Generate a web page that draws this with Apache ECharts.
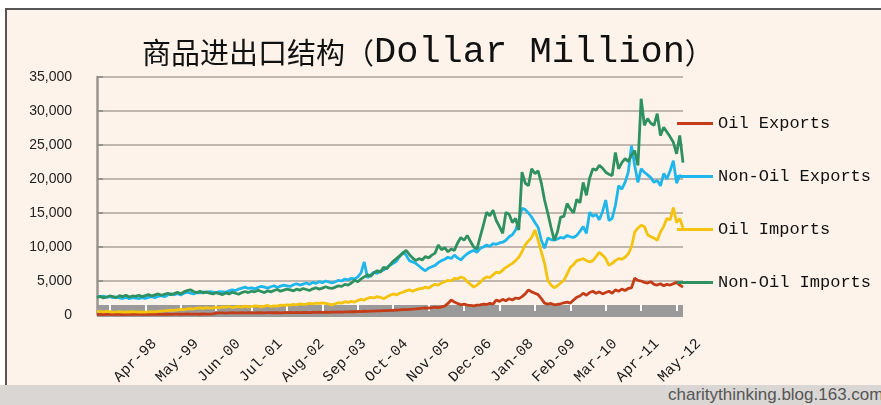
<!DOCTYPE html>
<html>
<head>
<meta charset="utf-8">
<script src="https://cdn.jsdelivr.net/npm/echarts@6/dist/echarts.min.js"></script>
<style>
  html, body { margin: 0; padding: 0; background: #ffffff; }
  #wrap { position: relative; width: 881px; height: 405px; overflow: hidden; }
  #paper { position: absolute; left: 5px; top: 8px; right: 0; bottom: 0; background: #fdf3ea;
           border-left: 2px solid #555; border-top: 2px solid #555; }
  #strip { position: absolute; left: 0; top: 385px; width: 881px; height: 20px; background: #d9d6d3; }
  #credit { position: absolute; left: 668px; top: 385px; font: 17px "Liberation Sans", Arial, sans-serif;
            color: #555; white-space: nowrap; line-height: 20px; }
  #chart { position: absolute; left: 0; top: 0; width: 881px; height: 405px; }
</style>
</head>
<body>
<div id="wrap">
  <div id="paper"></div>
  <div id="strip"></div>
  <div id="credit">charitythinking.blog.163.com</div>
  <div id="chart"></div>
</div>
<script>
// monthly, Mar-97 .. May-12
const monthNames = ["Jan","Feb","Mar","Apr","May","Jun","Jul","Aug","Sep","Oct","Nov","Dec"];
const months = [];
for (let y = 1997; y <= 2012; y++) {
  for (let m = 0; m < 12; m++) {
    if (y === 1997 && m < 2) continue;
    if (y === 2012 && m > 4) continue;
    months.push(monthNames[m] + "-" + String(y).slice(2));
  }
}

const seriesNames = ["Oil Exports", "Non-Oil Exports", "Oil Imports", "Non-Oil Imports"];
const yTicks = [0, 5000, 10000, 15000, 20000, 25000, 30000, 35000];

const oilExports = [
  80, 100, 70, 90, 110, 80, 100, 90, 70, 110, 90, 100,
  80, 100, 120, 90, 110, 130, 100, 120, 90, 110, 130, 100,
  120, 140, 110, 130, 150, 120, 140, 130, 110, 150, 130, 140,
  160, 280, 300, 320, 290, 310, 330, 300, 320, 340, 310, 330,
  300, 320, 350, 330, 310, 340, 360, 330, 350, 320, 360, 340,
  370, 350, 380, 360, 390, 370, 350, 400, 380, 410, 390, 420,
  400, 430, 410, 450, 430, 470, 450, 500, 480, 520, 500, 550,
  530, 580, 560, 600, 620, 650, 630, 680, 700, 730, 760, 800,
  780, 830, 860, 900, 950, 1000, 1050, 1000, 1100, 1150, 1100, 1200,
  1300, 1700, 2200, 1900, 1700, 1500, 1600, 1450, 1400, 1350, 1450, 1500,
  1600, 1550, 1700, 1600, 2200, 2000, 2300, 2100, 2400, 2200, 2500, 2400,
  2700, 3100, 3700, 3400, 3200, 3000, 2400, 1750, 1600, 1700, 1500, 1550,
  1650, 1800, 1900, 1750, 2200, 2600, 2800, 3200, 2900, 3300, 3500, 3200,
  3400, 3100, 3300, 3500, 3200, 3700, 3500, 3800, 3600, 3900, 4000, 5400,
  5100, 5000, 4800, 4700, 4900, 4500, 4400, 4600, 4300, 4500, 4400, 4600,
  4800, 4400, 4100
];

const nonOilExports = [
  2750, 2650, 2800, 2600, 2700, 2550, 2650, 2500, 2450, 2600, 2400, 2550,
  2500, 2400, 2550, 2450, 2600, 2700, 2550, 2750, 2850, 2700, 2950, 3100,
  3000, 3150, 2950, 3200, 3350, 3200, 3100, 3300, 3250, 3400, 3300, 3450,
  3350, 3250, 3450, 3400, 3350, 3550, 3700, 3600, 3800, 3950, 4100, 3900,
  4000, 3850, 4050, 4200, 4100, 3950, 4150, 4300, 4050, 4250, 4400, 4300,
  4200, 4450, 4600, 4400, 4550, 4700, 4500, 4800, 4650, 4900, 4750, 5000,
  4850, 4700, 4900, 5100, 5000, 5300, 5150, 5400, 5300, 5600, 6200, 7800,
  5500, 5900, 6300, 6100, 6500, 6600, 7000, 7300, 7600, 7900, 8600, 9200,
  8800, 8000, 7800, 7600, 7200, 6800, 6500, 6900, 7100, 7300, 7700, 8000,
  8200, 8500, 8300, 8800, 8400, 8100, 8600, 9000, 9300, 9500, 9200, 9800,
  10000, 10300, 10100, 10500, 10400, 10600, 10700, 11000, 11500, 11800, 12500, 13800,
  15700, 15500, 15000, 14400, 13600, 12900, 11000, 9800, 11300, 11100, 11000, 11200,
  11400, 11300, 11700, 11500, 11400, 11700, 12300, 13000, 12000, 15100, 14500, 14800,
  14000, 15200, 16900, 13900, 14200, 16100, 19000, 18500, 19500, 21000, 24900, 22000,
  19500, 21500, 21000, 20600, 20200, 19500, 19800, 19000, 20800, 20000, 21200, 22700,
  19400, 20500, 20300
];

const oilImports = [
  550, 500, 450, 520, 480, 430, 460, 500, 420, 470, 440, 480,
  450, 420, 460, 430, 470, 500, 450, 520, 560, 600, 650, 700,
  680, 750, 820, 780, 900, 950, 880, 1000, 1050, 980, 1100, 1000,
  1050, 1150, 1100, 1200, 1150, 1250, 1100, 1200, 1250, 1150, 1300, 1200,
  1250, 1350, 1300, 1200, 1300, 1400, 1250, 1350, 1300, 1450, 1400, 1500,
  1450, 1550, 1500, 1650, 1550, 1600, 1700, 1650, 1750, 1700, 1800, 1700,
  1600, 1500, 1650, 1800, 1750, 1950, 1850, 2000, 1900, 2150, 2300, 2200,
  2450, 2600, 2500, 2700, 2600, 2400, 2650, 2900, 3100, 2950, 3200, 3350,
  3550, 3700, 3500, 3700, 3850, 3900, 4100, 3950, 4300, 4500, 4400, 4700,
  4900, 5100, 5000, 5400, 5300, 5600, 5400, 4900, 4500, 4100, 4400, 4800,
  5300, 5600, 5500, 5900, 6300, 6200, 6600, 7000, 7300, 7600, 8000, 8500,
  9300, 10300, 10900, 11400, 12500, 11000, 9300, 7600, 5100, 4400, 4000, 4300,
  4700, 5100, 6000, 7000, 7400, 8000, 8100, 8300, 8000, 7800, 8000, 8600,
  9200, 8800, 8300, 7300, 7600, 8000, 8300, 8200, 8500, 9000, 10000, 12200,
  12800, 13200, 13000, 11800, 11500, 11300, 11000, 12200, 13000, 14200, 14000, 15800,
  13600, 14200, 12800
];

const nonOilImports = [
  2600, 2750, 2500, 2650, 2800, 2700, 2550, 2850, 2700, 2900, 2650, 2800,
  2750, 2900, 2700, 2850, 3000, 2800, 2950, 3100, 2900, 3050, 3200, 3000,
  3150, 3350, 3100, 3400, 3600, 3700, 3450, 3300, 3500, 3250, 3400, 3200,
  3100, 3300, 3150, 3000, 3250, 3100, 3350, 3200, 3050, 3300, 3450, 3300,
  3500, 3400, 3650, 3450, 3300, 3550, 3400, 3600, 3750, 3500, 3650, 3800,
  3700, 3550, 3800, 3650, 3900, 3750, 3600, 3850, 4000, 3800, 3950, 4150,
  4000, 3900, 4100, 4300, 4200, 4500, 4400, 4700, 5100, 4900, 5300, 5600,
  5900, 5700, 6200, 6500, 6300, 7000, 6800, 7400, 7900, 8300, 8700, 9100,
  9500, 8900, 8400, 8000, 8300, 8100, 8600, 8400, 8800, 9100, 10300, 9600,
  9900, 9300, 9700, 9500, 10600, 11400, 11000, 11700, 10800, 10000, 9700, 11500,
  13200, 15100, 14600, 15400, 13900, 13000, 12000, 15100, 14800, 13600, 14200, 12500,
  21000, 19400, 19000, 21500, 20800, 21200, 19400, 16900, 15000, 12900, 11000, 12200,
  14400, 14500, 16400, 15600, 15000, 17000, 16500, 19500, 17600, 20100, 21500, 21300,
  22000, 21600, 21000, 20700, 20500, 23900, 21500, 22400, 23000, 22600, 23500, 24200,
  22000, 31800, 27900, 28900, 28200, 27900, 29600, 26400, 27600, 26900, 26200, 25400,
  23700, 26400, 22400
];

const colors = ["#c43c18", "#1fb6ec", "#f3c30e", "#2f9160"];
const values = [oilExports, nonOilExports, oilImports, nonOilImports];

const chart = echarts.init(document.getElementById("chart"));

const option = {
  animation: false,
  backgroundColor: "transparent",
  color: colors,
  title: {
    text: "{c|商品进出口结构（}{l|Dollar Million}{c|）}",
    left: 137,
    top: 29,
    textStyle: {
      fontWeight: "normal",
      rich: {
        c: { fontFamily: "Noto Sans CJK SC", fontSize: 29, fontWeight: "normal", color: "#111" },
        l: { fontFamily: "Liberation Mono", fontSize: 37, fontWeight: "normal", color: "#111" }
      }
    }
  },
  legend: {
    orient: "vertical",
    left: 677,
    top: 115,
    padding: 0,
    itemGap: 36,
    itemWidth: 36,
    itemHeight: 3,
    icon: "rect",
    data: seriesNames,
    textStyle: { fontFamily: "Liberation Mono", fontSize: 17, color: "#111" }
  },
  grid: { left: 97, right: 198, top: 77, bottom: 90 },
  xAxis: {
    type: "category",
    data: months,
    boundaryGap: false,
    offset: -4,
    axisLine: { lineStyle: { color: "#9a9a9a", width: 12, cap: "butt" } },
    axisTick: {
      inside: true,
      length: 7,
      interval: (i) => i % 11 === 4,
      lineStyle: { color: "#ffffff", width: 2 }
    },
    axisLabel: {
      interval: (i) => i > 0 && i % 13 === 0,
      rotate: 45,
      margin: 46,
      padding: [0, -22, 0, 0],
      fontFamily: "Liberation Mono",
      fontSize: 15,
      color: "#1a1a1a"
    },
    splitLine: { show: false }
  },
  yAxis: {
    type: "value",
    min: yTicks[0],
    max: yTicks[yTicks.length - 1],
    interval: 5000,
    axisLine: { show: true, lineStyle: { color: "#9b9590", width: 2.5 } },
    axisTick: { show: true, inside: true, length: 6, lineStyle: { color: "#8d8781", width: 1.5 } },
    axisLabel: {
      margin: 25,
      fontFamily: "Liberation Sans",
      fontSize: 14,
      color: "#222",
      formatter: (v) => v.toLocaleString("en-US")
    },
    splitLine: { lineStyle: { color: "#aaa39c", width: 1.5 } }
  },
  series: seriesNames.map((name, k) => ({
    name: name,
    type: "line",
    data: values[k],
    showSymbol: false,
    lineStyle: { width: 2.8, color: colors[k] },
    itemStyle: { color: colors[k] }
  }))
};

chart.setOption(option);
</script>
</body>
</html>
